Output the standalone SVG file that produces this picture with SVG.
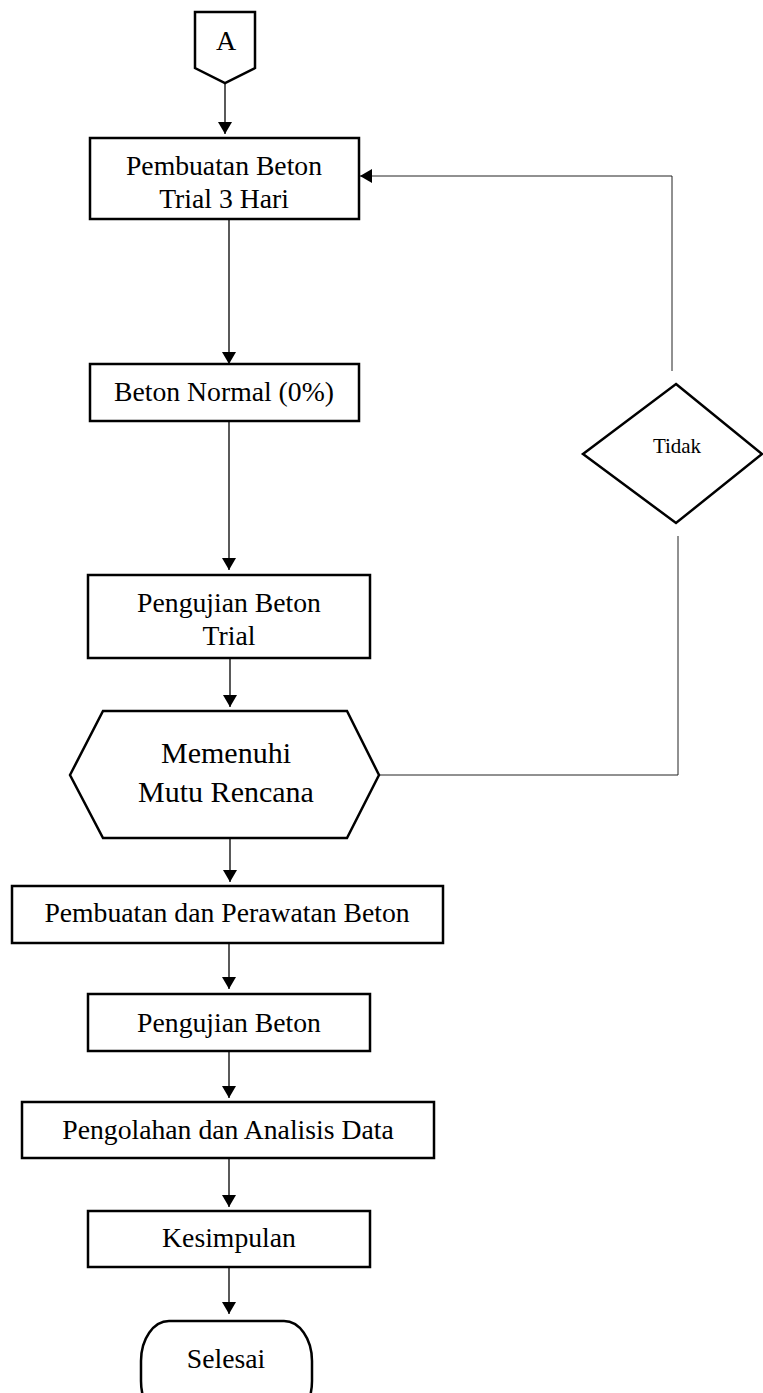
<svg xmlns="http://www.w3.org/2000/svg" width="763" height="1393" viewBox="0 0 763 1393">
<style>
.shape{fill:#fff;stroke:#000;stroke-width:2.5}
.thin{fill:none;stroke:#000;stroke-width:1.3}
.fb{fill:none;stroke:#222;stroke-width:1}
text{font-family:"Liberation Serif","Times New Roman",serif;fill:#000;text-anchor:middle}
.t{font-size:27.7px}
.th{font-size:30px}
.ts{font-size:21px}
</style>
<defs>
<marker id="ah" viewBox="0 0 12 14" refX="12" refY="7" markerWidth="12" markerHeight="14" markerUnits="userSpaceOnUse" orient="auto">
<path d="M0,0 L12,7 L0,14 Z" fill="#000"/>
</marker>
</defs>
<g id="connectors">
<line class="thin" x1="225" y1="83" x2="225" y2="134" marker-end="url(#ah)"/>
<line class="thin" x1="229" y1="219" x2="229" y2="364" marker-end="url(#ah)"/>
<line class="thin" x1="229" y1="421" x2="229" y2="570" marker-end="url(#ah)"/>
<line class="thin" x1="230" y1="658" x2="230" y2="707" marker-end="url(#ah)"/>
<line class="thin" x1="230" y1="838" x2="230" y2="882" marker-end="url(#ah)"/>
<line class="thin" x1="229" y1="943" x2="229" y2="989" marker-end="url(#ah)"/>
<line class="thin" x1="229" y1="1051" x2="229" y2="1098" marker-end="url(#ah)"/>
<line class="thin" x1="229" y1="1158" x2="229" y2="1207" marker-end="url(#ah)"/>
<line class="thin" x1="229" y1="1267" x2="229" y2="1314" marker-end="url(#ah)"/>
<polyline class="fb" points="379,775 678,775 678,536"/>
<polyline class="fb" points="672,371 672,176 360,176" marker-end="url(#ah)"/>
</g>
<g id="connectorA">
<polygon class="shape" points="195,12 255,12 255,68 225,83 195,68"/>
<text x="226" y="50" style="font-size:28px">A</text>
</g>
<g id="box1">
<rect class="shape" x="90" y="138" width="269" height="81"/>
<text class="t" x="224" y="175">Pembuatan Beton</text>
<text class="t" x="224" y="208">Trial 3 Hari</text>
</g>
<g id="box2">
<rect class="shape" x="90" y="364" width="269" height="57"/>
<text class="t" x="224" y="401">Beton Normal (0%)</text>
</g>
<g id="box3">
<rect class="shape" x="88" y="575" width="282" height="83"/>
<text class="t" x="229" y="612">Pengujian Beton</text>
<text class="t" x="229" y="645">Trial</text>
</g>
<g id="decision">
<polygon class="shape" points="70,775 103,711 347,711 379,775 347,838 103,838"/>
<text class="th" x="226" y="763">Memenuhi</text>
<text class="th" x="226" y="802">Mutu Rencana</text>
</g>
<g id="tidak">
<polygon class="shape" points="676,384 762,454 676,523 583,454"/>
<text class="ts" x="677" y="453">Tidak</text>
</g>
<g id="box4">
<rect class="shape" x="12" y="886" width="431" height="57"/>
<text class="t" x="227" y="922">Pembuatan dan Perawatan Beton</text>
</g>
<g id="box5">
<rect class="shape" x="88" y="994" width="282" height="57"/>
<text class="t" x="229" y="1032">Pengujian Beton</text>
</g>
<g id="box6">
<rect class="shape" x="22" y="1102" width="412" height="56"/>
<text class="t" x="228" y="1139">Pengolahan dan Analisis Data</text>
</g>
<g id="box7">
<rect class="shape" x="88" y="1211" width="282" height="56"/>
<text class="t" x="229" y="1247">Kesimpulan</text>
</g>
<g id="selesai">
<rect class="shape" x="141" y="1321" width="171" height="100" rx="28" ry="40"/>
<text class="t" x="226" y="1368">Selesai</text>
</g>
</svg>
